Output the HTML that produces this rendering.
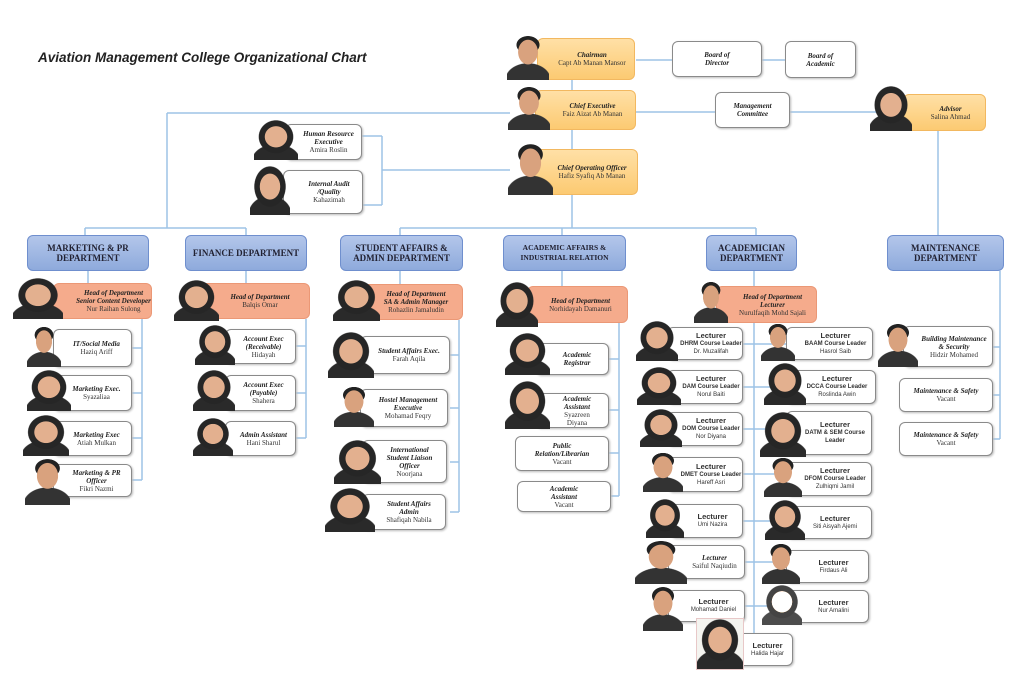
<!DOCTYPE html>
<html><head><meta charset="utf-8">
<style>
body{margin:0;width:1024px;height:692px;background:#fff;position:relative;overflow:hidden;font-family:"Liberation Serif",serif;}
.b{position:absolute;box-sizing:border-box;border:1.5px solid #8a8a8a;border-radius:6px;background:#fff;box-shadow:1px 1px 2px #bbb;display:flex;flex-direction:column;justify-content:center;align-items:center;text-align:center;font-size:7px;line-height:8px;color:#333;}
.b i{font-weight:bold;color:#222;}
.o{background:linear-gradient(#ffe0a6,#fcca72);border:1px solid #f2b860;box-shadow:none;}
.h{background:#f5ab8c;border:1px solid #eb9876;box-shadow:none;}
.d{position:absolute;box-sizing:border-box;border:1.5px solid #6f8fce;border-radius:6px;background:linear-gradient(#b3c6ea,#8eaadc);display:flex;align-items:center;justify-content:center;text-align:center;font-weight:bold;font-size:9px;line-height:10px;color:#223;}
.s{font-family:"Liberation Sans",sans-serif;}
.p{position:absolute;z-index:2;background:
radial-gradient(ellipse 26% 27% at 50% 42%,#e3b08f 96%,transparent 100%),
radial-gradient(ellipse 40% 42% at 50% 42%,#262626 96%,transparent 100%),
radial-gradient(ellipse 55% 40% at 50% 100%,#2a2a2a 96%,transparent 100%);}
.m{background:
radial-gradient(ellipse 24% 28% at 50% 38%,#d9a27e 96%,transparent 100%),
radial-gradient(ellipse 28% 20% at 50% 22%,#222 96%,transparent 100%),
radial-gradient(ellipse 55% 38% at 50% 100%,#333 96%,transparent 100%);}
.t{position:absolute;left:38px;top:50px;font-family:"Liberation Sans",sans-serif;font-weight:bold;font-style:italic;font-size:13.5px;color:#222;}
</style></head><body>
<div class="t">Aviation Management College Organizational Chart</div>
<svg width="1024" height="692" style="position:absolute;left:0;top:0" fill="none" stroke="#9dc3e6" stroke-width="1.5">
<path d="M572 80V90M572 130V149M572 195V228M167 113H510M167 113V228M85 228H246M85 228V235M246 228V235M400 228H756M400 228V235M562 228V235M756 228V235"/>
<path d="M636 60H672M785 60H762M636 112H715M903 112H790M938 131V235"/>
<path d="M362 136H382M363 205H382M382 136V205M382 170H510"/>
<path d="M88 271V283M142 319V480M132 348H142M132 393H142M132 438H142M132 480H142"/>
<path d="M246 271V283M306 319V438M296 346H306M296 393H306M296 438H306"/>
<path d="M400 271V284M459 320V512M450 355H459M450 408H459M450 462H459M450 512H459"/>
<path d="M562 271V286M619 323V496M609 359H619M609 410H619M609 453H619M611 496H619"/>
<path d="M754 271V286M754 323V633M743 344H786M743 387H786M743 429H786M743 474H786M743 521H786M743 562H786M743 606H786"/>
<path d="M1000 271V439M993 347H1000M993 395H1000M993 439H1000"/>
</svg>
<!-- top -->
<div class="b o" style="left:537px;top:38px;width:98px;height:42px;padding-left:12px"><i>Chairman</i>Capt Ab Manan Mansor</div>
<div class="p m" style="left:507px;top:35px;width:42px;height:45px"></div>
<div class="b" style="left:672px;top:41px;width:90px;height:36px"><i>Board of<br>Director</i></div>
<div class="b" style="left:785px;top:41px;width:71px;height:37px"><i>Board of<br>Academic</i></div>
<div class="b o" style="left:535px;top:90px;width:101px;height:40px;padding-left:14px"><i>Chief Executive</i>Faiz Aizat Ab Manan</div>
<div class="p m" style="left:508px;top:86px;width:42px;height:44px"></div>
<div class="b" style="left:715px;top:92px;width:75px;height:36px"><i>Management<br>Committee</i></div>
<div class="b o" style="left:903px;top:94px;width:83px;height:37px;padding-left:12px"><i>Advisor</i>Salina Ahmad</div>
<div class="p" style="left:870px;top:86px;width:42px;height:45px"></div>
<div class="b" style="left:285px;top:124px;width:77px;height:36px;padding-left:10px"><i>Human Resource<br>Executive</i>Amira Roslin</div>
<div class="p" style="left:254px;top:120px;width:44px;height:40px"></div>
<div class="b" style="left:283px;top:170px;width:80px;height:44px;padding-left:12px"><i>Internal Audit<br>/Quality</i>Kahazimah</div>
<div class="p" style="left:250px;top:166px;width:40px;height:49px"></div>
<div class="b o" style="left:532px;top:149px;width:106px;height:46px;padding-left:14px"><i>Chief Operating Officer</i>Hafiz Syafiq Ab Manan</div>
<div class="p m" style="left:508px;top:143px;width:45px;height:52px"></div>
<!-- depts -->
<div class="d" style="left:27px;top:235px;width:122px;height:36px">MARKETING &amp; PR<br>DEPARTMENT</div>
<div class="d" style="left:185px;top:235px;width:122px;height:36px">FINANCE DEPARTMENT</div>
<div class="d" style="left:340px;top:235px;width:123px;height:36px">STUDENT AFFAIRS &amp;<br>ADMIN DEPARTMENT</div>
<div class="d" style="left:503px;top:235px;width:123px;height:36px;font-size:7.5px">ACADEMIC AFFAIRS &amp;<br>INDUSTRIAL RELATION</div>
<div class="d" style="left:706px;top:235px;width:91px;height:36px">ACADEMICIAN<br>DEPARTMENT</div>
<div class="d" style="left:887px;top:235px;width:117px;height:36px">MAINTENANCE<br>DEPARTMENT</div>
<!-- marketing -->
<div class="b h" style="left:53px;top:283px;width:99px;height:36px;padding-left:22px"><i>Head of Department<br>Senior Content Developer</i>Nur Raihan Sulong</div>
<div class="p" style="left:13px;top:278px;width:50px;height:41px"></div>
<div class="b" style="left:53px;top:329px;width:79px;height:38px;padding-left:8px"><i>IT/Social Media</i>Haziq Ariff</div>
<div class="p m" style="left:27px;top:326px;width:34px;height:41px"></div>
<div class="b" style="left:53px;top:375px;width:79px;height:36px;padding-left:8px"><i>Marketing Exec.</i>Syazaliaa</div>
<div class="p" style="left:27px;top:370px;width:44px;height:41px"></div>
<div class="b" style="left:53px;top:421px;width:79px;height:35px;padding-left:8px"><i>Marketing Exec</i>Atiah Mulkan</div>
<div class="p" style="left:23px;top:415px;width:46px;height:41px"></div>
<div class="b" style="left:53px;top:464px;width:79px;height:33px;padding-left:8px"><i>Marketing &amp; PR<br>Officer</i>Fikri Nazmi</div>
<div class="p m" style="left:25px;top:458px;width:45px;height:47px"></div>
<!-- finance -->
<div class="b h" style="left:200px;top:283px;width:110px;height:36px;padding-left:10px"><i>Head of Department</i>Balqis Omar</div>
<div class="p" style="left:174px;top:280px;width:45px;height:41px"></div>
<div class="b" style="left:225px;top:329px;width:71px;height:35px;padding-left:6px"><i>Account Exec<br>(Receivable)</i>Hidayah</div>
<div class="p" style="left:195px;top:325px;width:40px;height:40px"></div>
<div class="b" style="left:225px;top:375px;width:71px;height:36px;padding-left:6px"><i>Account Exec<br>(Payable)</i>Shahera</div>
<div class="p" style="left:193px;top:370px;width:42px;height:41px"></div>
<div class="b" style="left:225px;top:421px;width:71px;height:35px;padding-left:6px"><i>Admin Assistant</i>Hani Sharul</div>
<div class="p" style="left:193px;top:418px;width:40px;height:38px"></div>
<!-- student affairs -->
<div class="b h" style="left:355px;top:284px;width:108px;height:36px;padding-left:14px"><i>Head of Department<br>SA &amp; Admin Manager</i>Rohazlin Jamaludin</div>
<div class="p" style="left:333px;top:280px;width:47px;height:41px"></div>
<div class="b" style="left:360px;top:336px;width:90px;height:38px;padding-left:8px"><i>Student Affairs Exec.</i>Farah Aqila</div>
<div class="p" style="left:328px;top:332px;width:46px;height:46px"></div>
<div class="b" style="left:360px;top:389px;width:88px;height:38px;padding-left:8px"><i>Hostel Management<br>Executive</i>Mohamad Feqry</div>
<div class="p m" style="left:334px;top:386px;width:40px;height:41px"></div>
<div class="b" style="left:362px;top:440px;width:85px;height:43px;padding-left:10px"><i>International<br>Student Liaison<br>Officer</i>Noorjana</div>
<div class="p" style="left:334px;top:440px;width:47px;height:44px"></div>
<div class="b" style="left:362px;top:494px;width:84px;height:36px;padding-left:10px"><i>Student Affairs<br>Admin</i>Shafiqah Nabila</div>
<div class="p" style="left:325px;top:488px;width:50px;height:44px"></div>
<!-- academic affairs -->
<div class="b h" style="left:527px;top:286px;width:101px;height:37px;padding-left:6px"><i>Head of Department</i>Norhidayah Damanuri</div>
<div class="p" style="left:496px;top:282px;width:42px;height:45px"></div>
<div class="b" style="left:535px;top:343px;width:74px;height:32px;padding-left:10px"><i>Academic<br>Registrar</i></div>
<div class="p" style="left:505px;top:333px;width:45px;height:42px"></div>
<div class="b" style="left:535px;top:393px;width:74px;height:35px;padding-left:10px"><i>Academic<br>Assistant</i>Syazreen<br>Diyana</div>
<div class="p" style="left:505px;top:381px;width:45px;height:48px"></div>
<div class="b" style="left:515px;top:436px;width:94px;height:35px"><i>Public<br>Relation/Librarian</i>Vacant</div>
<div class="b" style="left:517px;top:481px;width:94px;height:31px"><i>Academic<br>Assistant</i>Vacant</div>
<!-- academician -->
<div class="b h" style="left:716px;top:286px;width:101px;height:37px;padding-left:12px"><i>Head of Department<br>Lecturer</i>Nurulfaqih Mohd Sajali</div>
<div class="p m" style="left:694px;top:281px;width:34px;height:42px"></div>
<div class="b s" style="left:667px;top:327px;width:76px;height:33px;padding-left:12px;font-size:6px"><b style="font-size:7.5px">Lecturer</b><b>DHRM Course Leader</b>Dr. Muzalifah</div>
<div class="p" style="left:636px;top:321px;width:42px;height:40px"></div>
<div class="b s" style="left:667px;top:370px;width:76px;height:34px;padding-left:12px;font-size:6px"><b style="font-size:7.5px">Lecturer</b><b>DAM Course Leader</b>Norul Baiti</div>
<div class="p" style="left:637px;top:367px;width:44px;height:38px"></div>
<div class="b s" style="left:667px;top:412px;width:76px;height:34px;padding-left:12px;font-size:6px"><b style="font-size:7.5px">Lecturer</b><b>DOM Course Leader</b>Nor Diyana</div>
<div class="p" style="left:640px;top:409px;width:42px;height:38px"></div>
<div class="b s" style="left:667px;top:457px;width:76px;height:35px;padding-left:12px;font-size:6px"><b style="font-size:7.5px">Lecturer</b><b>DMET Course Leader</b>Hareff Asri</div>
<div class="p m" style="left:643px;top:452px;width:40px;height:40px"></div>
<div class="b s" style="left:670px;top:504px;width:73px;height:34px;padding-left:12px;font-size:6px"><b style="font-size:7.5px">Lecturer</b>Umi Nazira</div>
<div class="p" style="left:646px;top:499px;width:38px;height:39px"></div>
<div class="b" style="left:668px;top:545px;width:77px;height:34px;padding-left:16px"><i>Lecturer</i>Saiful Naqiudin</div>
<div class="p m" style="left:635px;top:540px;width:52px;height:44px"></div>
<div class="b s" style="left:668px;top:590px;width:77px;height:32px;padding-left:14px;font-size:6px"><b style="font-size:7.5px">Lecturer</b>Mohamad Daniel</div>
<div class="p m" style="left:643px;top:586px;width:40px;height:45px"></div>
<div class="b s" style="left:732px;top:633px;width:61px;height:33px;padding-left:10px;font-size:6px"><b style="font-size:7.5px">Lecturer</b>Halida Hajar</div>
<div class="p" style="left:697px;top:619px;width:46px;height:50px;outline:1px solid #e8c8c8;background-color:#f4f4f0"></div>
<div class="b s" style="left:786px;top:327px;width:87px;height:33px;padding-left:12px;font-size:6px"><b style="font-size:7.5px">Lecturer</b><b>BAAM Course Leader</b>Hasrol Saib</div>
<div class="p m" style="left:761px;top:323px;width:34px;height:38px"></div>
<div class="b s" style="left:786px;top:370px;width:90px;height:34px;padding-left:12px;font-size:6px"><b style="font-size:7.5px">Lecturer</b><b>DCCA Course Leader</b>Roslinda Awin</div>
<div class="p" style="left:764px;top:363px;width:42px;height:42px"></div>
<div class="b s" style="left:786px;top:411px;width:86px;height:44px;padding-left:12px;font-size:6px"><b style="font-size:7.5px">Lecturer</b><b>DATM &amp; SEM Course<br>Leader</b></div>
<div class="p" style="left:760px;top:412px;width:46px;height:45px"></div>
<div class="b s" style="left:786px;top:462px;width:86px;height:34px;padding-left:12px;font-size:6px"><b style="font-size:7.5px">Lecturer</b><b>DFOM Course Leader</b>Zulhiqmi Jamil</div>
<div class="p m" style="left:764px;top:457px;width:38px;height:40px"></div>
<div class="b s" style="left:786px;top:506px;width:86px;height:33px;padding-left:12px;font-size:6px"><b style="font-size:7.5px">Lecturer</b>Siti Aisyah Ajemi</div>
<div class="p" style="left:765px;top:500px;width:40px;height:40px"></div>
<div class="b s" style="left:786px;top:550px;width:83px;height:33px;padding-left:12px;font-size:6px"><b style="font-size:7.5px">Lecturer</b>Firdaus Ali</div>
<div class="p m" style="left:762px;top:543px;width:38px;height:41px"></div>
<div class="b s" style="left:786px;top:590px;width:83px;height:33px;padding-left:12px;font-size:6px"><b style="font-size:7.5px">Lecturer</b>Nur Amalini</div>
<div class="p" style="left:762px;top:585px;width:40px;height:40px;filter:brightness(1.8)"></div>
<!-- maintenance -->
<div class="b" style="left:903px;top:326px;width:90px;height:41px;padding-left:12px"><i>Building Maintenance<br>&amp; Security</i>Hidzir Mohamed</div>
<div class="p m" style="left:878px;top:323px;width:40px;height:44px"></div>
<div class="b" style="left:899px;top:378px;width:94px;height:34px"><i>Maintenance &amp; Safety</i>Vacant</div>
<div class="b" style="left:899px;top:422px;width:94px;height:34px"><i>Maintenance &amp; Safety</i>Vacant</div>
</body></html>
